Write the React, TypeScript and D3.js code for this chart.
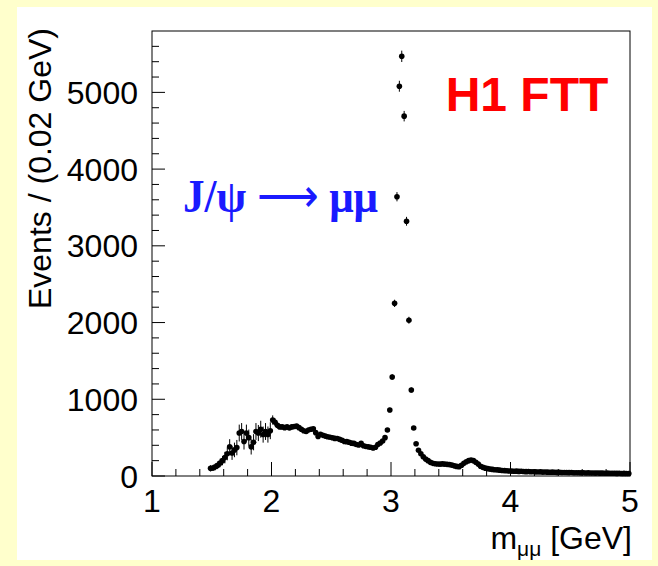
import React from 'react';
import * as d3 from 'd3';

// histogram bins: 0.02 GeV wide, first bin starts at 1.48 GeV
const binLow = 1.48;
const binWidth = 0.02;

// events per bin (1.49 ... 4.99 GeV bin centres)
const counts = [
  // 1.49 - 1.99
  100, 105, 120, 140, 170, 200, 240, 290, 380, 300, 340, 370, 560, 580, 450, 560, 500, 380, 440, 580,
  560, 610, 540, 580, 540, 590,
  // 2.01 - 2.99
  730, 700, 660, 640, 640, 630, 640, 625, 640, 645,
  650, 630, 610, 590, 580, 600, 610, 615, 565, 515,
  545, 530, 520, 512, 505, 498, 490, 488, 478, 465,
  450, 448, 440, 428, 425, 410, 405, 425, 395, 385,
  380, 375, 365, 375, 410, 430, 455, 500, 600, 860,
  // 3.01 - 3.99
  1290, 2250, 3640, 5080, 5470, 4690, 3320, 2030, 1120, 625,
  420, 335, 290, 250, 220, 200, 178, 165, 160, 156,
  155, 158, 155, 152, 148, 142, 132, 125, 122, 140,
  165, 185, 200, 208, 200, 180, 155, 128, 112, 102,
  96, 90, 86, 82, 80, 76, 72, 70, 68, 66,
  // 4.01 - 4.99
  64, 62, 63, 60, 61, 58, 57, 58, 55, 56,
  54, 53, 54, 51, 52, 50, 49, 50, 48, 47,
  48, 46, 45, 46, 44, 45, 43, 42, 43, 41,
  42, 40, 41, 39, 40, 38, 39, 37, 38, 36,
  37, 35, 36, 35, 34, 35, 33, 34, 33, 32,
];

// the low-mass region is prescaled, so its error bars are larger
const lowMassErrors = [
  40, 40, 45, 50, 55, 60, 75, 85, 100, 90, 95, 100, 110, 110, 105, 110, 105, 100, 105, 110,
  105, 110, 105, 110, 105, 110, 60, 50, 40,
];

const xTickLabels = [1, 2, 3, 4, 5];
const yTickLabels = [0, 1000, 2000, 3000, 4000, 5000];

const W = 658;
const H = 566;
const frame = { left: 152, right: 630, top: 31, bottom: 476 };

const sans = '"Liberation Sans", Arial, Helvetica, sans-serif';
const serif = '"Liberation Serif", "Times New Roman", serif';

const App = () => {
  const x = d3.scaleLinear().domain([1, 5]).range([frame.left, frame.right]);
  const y = d3.scaleLinear().domain([0, 5800]).range([frame.bottom, frame.top]);

  const points = counts.map((c, i) => ({
    m: binLow + binWidth * (i + 0.5),
    n: c,
    err: i < lowMassErrors.length ? lowMassErrors[i] : Math.sqrt(c),
  }));

  const xMinor = d3.range(0, 21).map(i => 1 + i * 0.2);
  const yMinor = d3.range(0, 29).map(i => i * 200);

  return (
    <svg
      width={W}
      height={H}
      style={{ position: 'absolute', left: 0, top: 0, display: 'block' }}
    >
      <rect x={0} y={0} width={W} height={H} fill="#ffffcc" />
      <rect x={17} y={7} width={635} height={553} fill="#ffffff" />

      {/* frame */}
      <rect
        x={frame.left}
        y={frame.top}
        width={frame.right - frame.left}
        height={frame.bottom - frame.top}
        fill="none"
        stroke="#000"
        strokeWidth={1}
      />

      {/* x ticks */}
      {xMinor.map((v, i) => {
        const major = Math.abs(v - Math.round(v)) < 1e-6;
        return (
          <line
            key={'xt' + i}
            x1={x(v)}
            x2={x(v)}
            y1={frame.bottom}
            y2={frame.bottom - (major ? 14 : 7)}
            stroke="#000"
            strokeWidth={1}
          />
        );
      })}
      {xTickLabels.map(v => (
        <text
          key={'xl' + v}
          x={x(v)}
          y={512}
          textAnchor="middle"
          fontFamily={sans}
          fontSize={32}
          fill="#000"
        >
          {v}
        </text>
      ))}

      {/* y ticks */}
      {yMinor.map((v, i) => {
        const major = v % 1000 === 0;
        return (
          <line
            key={'yt' + i}
            x1={frame.left}
            x2={frame.left + (major ? 13 : 7)}
            y1={y(v)}
            y2={y(v)}
            stroke="#000"
            strokeWidth={1}
          />
        );
      })}
      {yTickLabels.map(v => (
        <text
          key={'yl' + v}
          x={138}
          y={y(v)}
          dy="0.36em"
          textAnchor="end"
          fontFamily={sans}
          fontSize={32}
          fill="#000"
        >
          {v}
        </text>
      ))}

      {/* axis titles */}
      <text
        x={632}
        y={549}
        textAnchor="end"
        fontFamily={sans}
        fontSize={32}
        fill="#000"
      >
        m<tspan fontSize={21} dy={7}>μμ</tspan>
        <tspan dy={-7}> [GeV]</tspan>
      </text>
      <text
        transform={`translate(51, 28) rotate(-90)`}
        textAnchor="end"
        fontFamily={sans}
        fontSize={32}
        fill="#000"
      >
        Events / (0.02 GeV)
      </text>

      {/* data points with error bars */}
      <g>
        {points.map((p, i) => (
          <g key={'p' + i}>
            <line
              x1={x(p.m)}
              x2={x(p.m)}
              y1={y(p.n - p.err)}
              y2={y(p.n + p.err)}
              stroke="#000"
              strokeWidth={1}
            />
            <circle cx={x(p.m)} cy={y(p.n)} r={2.8} fill="#000" />
          </g>
        ))}
      </g>

      {/* labels */}
      <text
        x={527}
        y={111}
        textAnchor="middle"
        fontFamily={sans}
        fontWeight="bold"
        fontSize={48}
        fill="#ff0000"
      >
        H1 FTT
      </text>
      <text
        x={183}
        y={212}
        textLength={195}
        lengthAdjust="spacingAndGlyphs"
        fontFamily={serif}
        fontWeight="bold"
        fontSize={47}
        fill="#1a1aff"
      >
        J/ψ <tspan fontWeight="normal">⟶</tspan> μμ
      </text>
    </svg>
  );
};

export default App;
